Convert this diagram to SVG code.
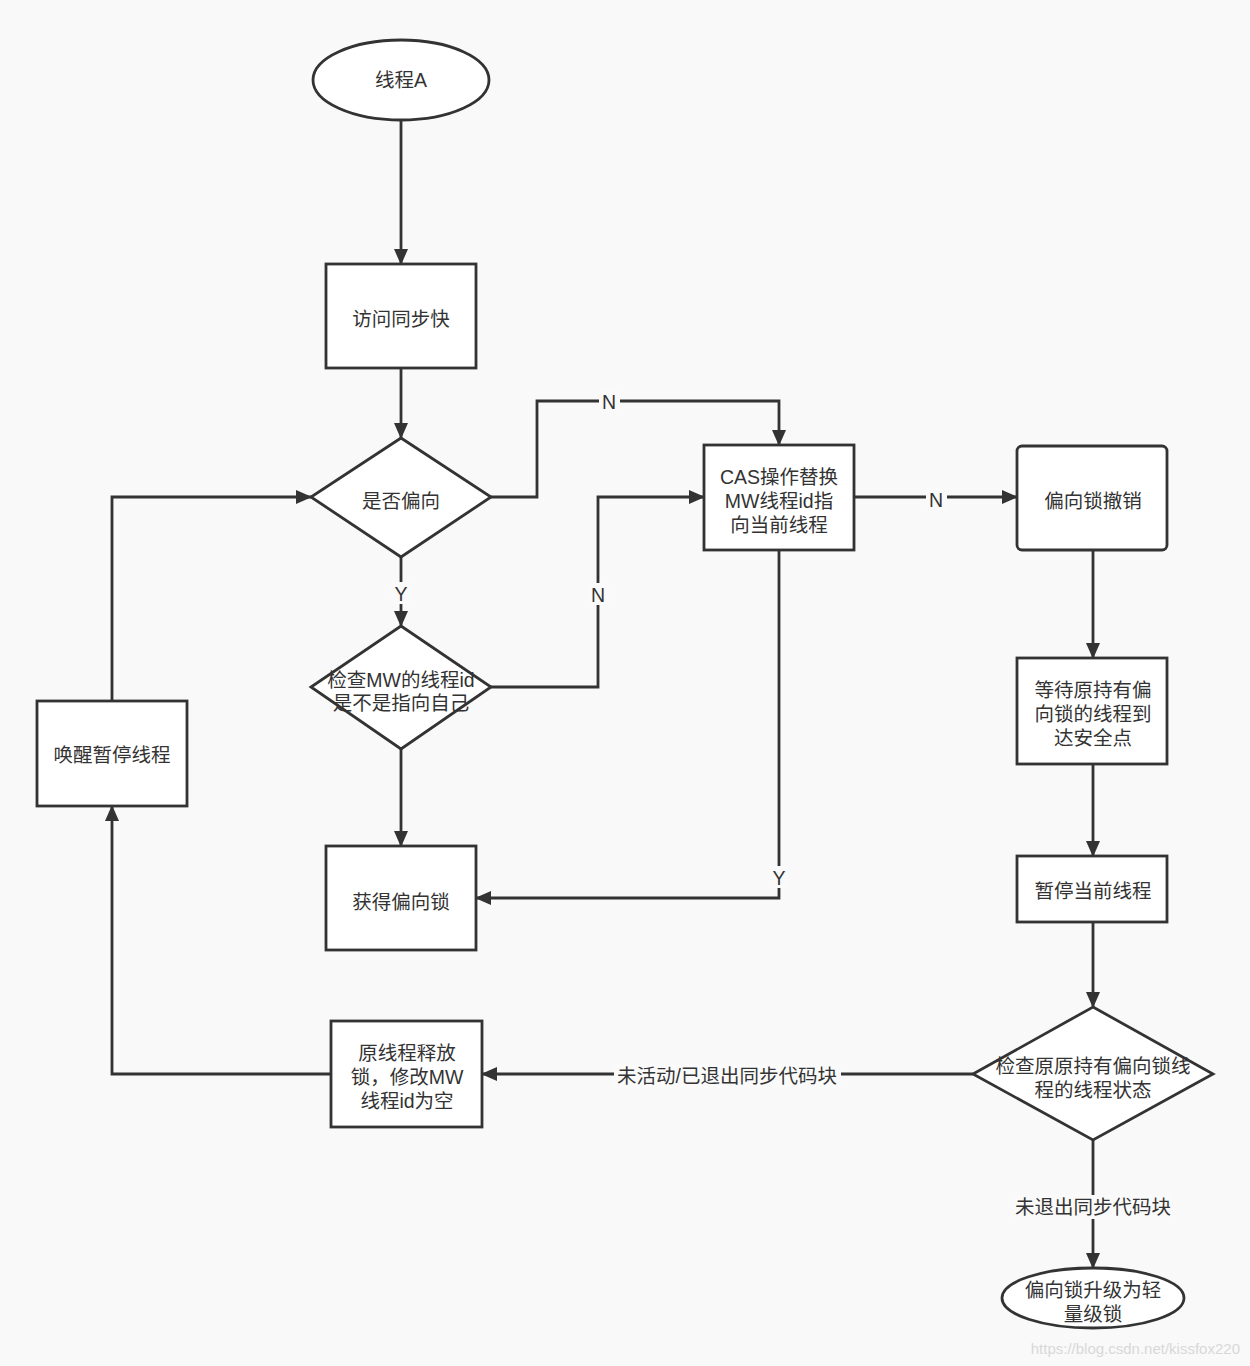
<svg xmlns="http://www.w3.org/2000/svg" width="1250" height="1366" viewBox="0 0 1250 1366">
<defs>
<marker id="arr" viewBox="0 0 16 14" refX="15" refY="7" markerWidth="16" markerHeight="14" markerUnits="userSpaceOnUse" orient="auto">
<path d="M0,0 L16,7 L0,14 Z" fill="#333"/>
</marker>
<style>
.n{fill:#fff;stroke:#333;stroke-width:2.8}
.t{font-family:"Liberation Sans","Noto Sans CJK SC",sans-serif;font-size:19.5px;fill:#333;text-anchor:middle}
.c path{fill:none;stroke:#333;stroke-width:2.8;marker-end:url(#arr)}
.lb{fill:#fafafa}
</style>
</defs>
<rect width="1250" height="1366" fill="#f9f9f9"/>
<g class="c" id="connectors">
<path d="M401,120 V264"/>
<path d="M401,368 V438"/>
<path d="M491,497 H537 V401 H779 V445"/>
<path d="M401,557 V626"/>
<path d="M491,687 H598 V497 H704"/>
<path d="M401,749 V846"/>
<path d="M779,550 V898 H476"/>
<path d="M854,497 H1017"/>
<path d="M1093,550 V658"/>
<path d="M1093,764 V856"/>
<path d="M1093,922 V1007"/>
<path d="M973,1074 H482"/>
<path d="M1093,1140 V1268"/>
<path d="M331,1074 H112 V806"/>
<path d="M112,701 V497 H311"/>
<rect class="lb" x="599" y="390" width="21" height="22"/>
<text class="t" x="609" y="409">N</text>
<rect class="lb" x="391" y="582" width="20" height="22"/>
<text class="t" x="401" y="601">Y</text>
<rect class="lb" x="588" y="583" width="21" height="22"/>
<text class="t" x="598" y="602">N</text>
<rect class="lb" x="769" y="866" width="20" height="22"/>
<text class="t" x="779" y="885">Y</text>
<rect class="lb" x="926" y="488" width="21" height="22"/>
<text class="t" x="936" y="507">N</text>
<rect class="lb" x="614" y="1064" width="227" height="24"/>
<text class="t" x="727" y="1083">未活动/已退出同步代码块</text>
<rect class="lb" x="1014" y="1195" width="158" height="24"/>
<text class="t" x="1093" y="1214">未退出同步代码块</text>
</g>
<g id="n1"><ellipse class="n" cx="401" cy="80" rx="88" ry="40"/><text class="t" x="401" y="87">线程A</text></g>
<g id="n2"><rect class="n" x="326" y="264" width="150" height="104"/><text class="t" x="401" y="326">访问同步快</text></g>
<g id="n3"><polygon class="n" points="401,438 491,497 401,557 311,497"/><text class="t" x="401" y="508">是否偏向</text></g>
<g id="n4"><polygon class="n" points="401,626 491,687 401,749 311,687"/><text class="t" x="401" y="687">检查MW的线程id</text><text class="t" x="401" y="710">是不是指向自己</text></g>
<g id="n5"><rect class="n" x="326" y="846" width="150" height="104"/><text class="t" x="401" y="909">获得偏向锁</text></g>
<g id="n6"><rect class="n" x="704" y="445" width="150" height="105"/><text class="t" x="779" y="484">CAS操作替换</text><text class="t" x="779" y="508">MW线程id指</text><text class="t" x="779" y="532">向当前线程</text></g>
<g id="n7"><rect class="n" x="1017" y="446" width="150" height="104" rx="5"/><text class="t" x="1093" y="508">偏向锁撤销</text></g>
<g id="n8"><rect class="n" x="1017" y="658" width="150" height="106"/><text class="t" x="1093" y="697">等待原持有偏</text><text class="t" x="1093" y="721">向锁的线程到</text><text class="t" x="1093" y="745">达安全点</text></g>
<g id="n9"><rect class="n" x="1017" y="856" width="150" height="66"/><text class="t" x="1093" y="898">暂停当前线程</text></g>
<g id="n10"><polygon class="n" points="1093,1007 1213,1074 1093,1140 973,1074"/><text class="t" x="1093" y="1073">检查原原持有偏向锁线</text><text class="t" x="1093" y="1097">程的线程状态</text></g>
<g id="n11"><ellipse class="n" cx="1093" cy="1298" rx="91" ry="30"/><text class="t" x="1093" y="1297">偏向锁升级为轻</text><text class="t" x="1093" y="1321">量级锁</text></g>
<g id="n12"><rect class="n" x="331" y="1021" width="151" height="106"/><text class="t" x="407" y="1060">原线程释放</text><text class="t" x="407" y="1084">锁，修改MW</text><text class="t" x="407" y="1108">线程id为空</text></g>
<g id="n13"><rect class="n" x="37" y="701" width="150" height="105"/><text class="t" x="112" y="762">唤醒暂停线程</text></g>
<text x="1240" y="1354" font-family="Liberation Sans, sans-serif" font-size="15" fill="#d8d8d8" text-anchor="end">https://blog.csdn.net/kissfox220</text>
</svg>
